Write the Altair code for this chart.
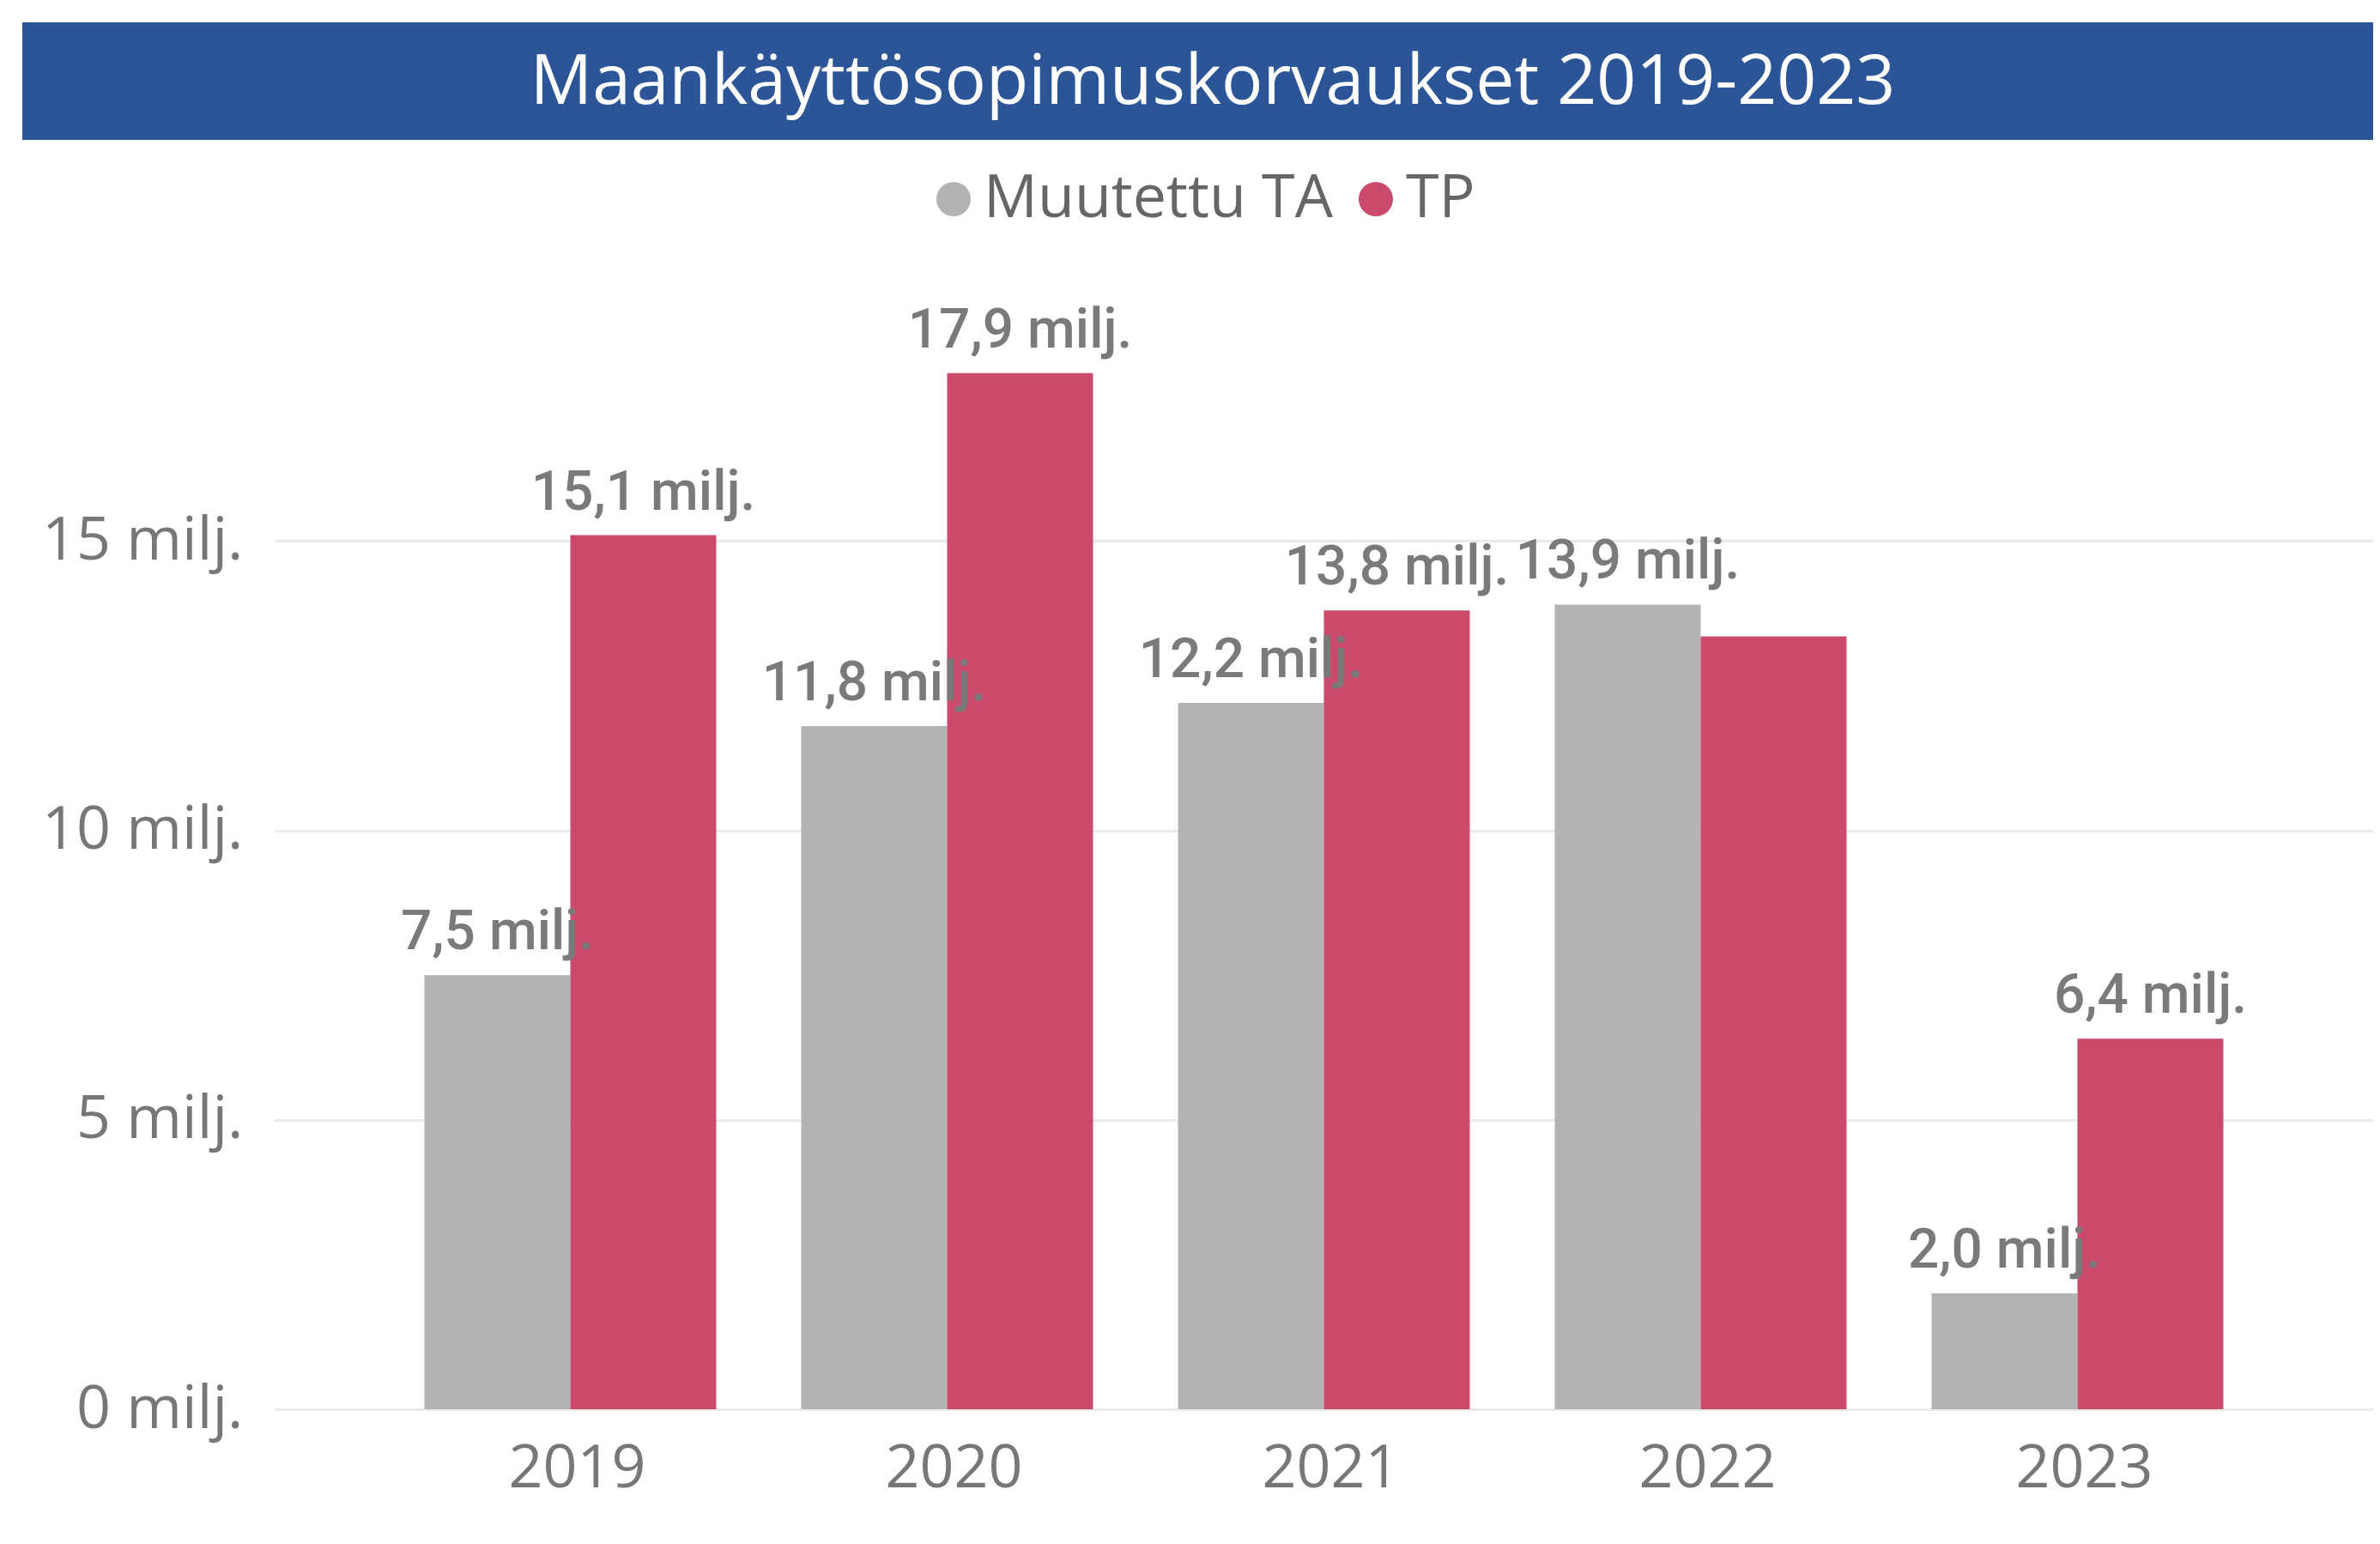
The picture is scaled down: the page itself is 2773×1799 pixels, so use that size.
import altair as alt
import pandas as pd

title_text = "Maankäyttösopimuskorvaukset 2019-2023"
years = ["2019", "2020", "2021", "2022", "2023"]
series = ["Muutettu TA", "TP"]
muutettu_ta = [7.5, 11.8, 12.2, 13.9, 2.0]
tp = [15.1, 17.9, 13.8, 13.35, 6.4]
# Power BI hides the 2022 TP label (overlap)
show_ta = [True, True, True, True, True]
show_tp = [True, True, True, False, True]
colors = ["#B3B3B3", "#CA4A6C"]
y_ticks = [0, 5, 10, 15]

rows = []
for i, y in enumerate(years):
    rows.append({"year": y, "series": series[0], "value": muutettu_ta[i], "show": show_ta[i]})
    rows.append({"year": y, "series": series[1], "value": tp[i], "show": show_tp[i]})
df = pd.DataFrame(rows)

W, H = 2445, 1349

base = alt.Chart(df).encode(
    x=alt.X("year:N", sort=years,
            scale=alt.Scale(paddingInner=0.2255, paddingOuter=0.3975),
            axis=alt.Axis(title=None, labelAngle=0, labelFont="Open Sans", labelFontSize=70,
                          labelColor="#777777", labelPadding=35, labelOffset=8,
                          ticks=False, domain=False, grid=False)),
    xOffset=alt.XOffset("series:N", sort=series, scale=alt.Scale(paddingInner=0, paddingOuter=0)),
    y=alt.Y("value:Q", scale=alt.Scale(domain=[0, 20], nice=False),
            axis=alt.Axis(title=None, values=y_ticks, labelExpr="datum.value + ' milj.'",
                          labelFont="Open Sans", labelFontSize=70, labelColor="#777777",
                          labelPadding=37, labelLimit=1000, ticks=False, domain=False, grid=True,
                          gridColor="#EAEAEA", gridWidth=3)),
)

bars = base.mark_bar().encode(
    color=alt.Color("series:N", sort=series, scale=alt.Scale(domain=series, range=colors),
                    legend=alt.Legend(orient="none", legendX=756, legendY=-96, direction="horizontal",
                                      title=None, symbolType="circle", symbolSize=1600,
                                      symbolStrokeWidth=0, labelFont="Open Sans", labelFontSize=70,
                                      labelColor="#666666", labelOffset=0, columnPadding=15,
                                      padding=0, labelLimit=1000))
)

labels = base.transform_filter("datum.show").transform_calculate(
    label="replace(format(datum.value, '.1f'), '.', ',') + ' milj.'"
).mark_text(dy=-30, baseline="alphabetic", align="center", font="Roboto", fontWeight=500,
            fontSize=64, color="#7A7A7A").encode(text="label:N")

banner = alt.Chart(alt.Data(values=[{"a": 1}])).mark_rect(color="#2B5597").encode(
    x=alt.value(-294), x2=alt.value(W), y=alt.value(-267), y2=alt.value(-130)
)

title = alt.Chart(alt.Data(values=[{"t": title_text}])).mark_text(
    font="Open Sans", fontSize=80.5, color="white", align="center", baseline="alphabetic"
).encode(text="t:N", x=alt.value(1093), y=alt.value(-172))

chart = alt.layer(banner, title, bars, labels).properties(
    width=W, height=H,
    autosize=alt.AutoSizeParams(type="none"),
    padding={"left": 312, "top": 285, "right": 0, "bottom": 148},
    background="white",
).configure_view(stroke=None)

chart.save("out.html", embed_options={"renderer": "svg", "actions": False})
